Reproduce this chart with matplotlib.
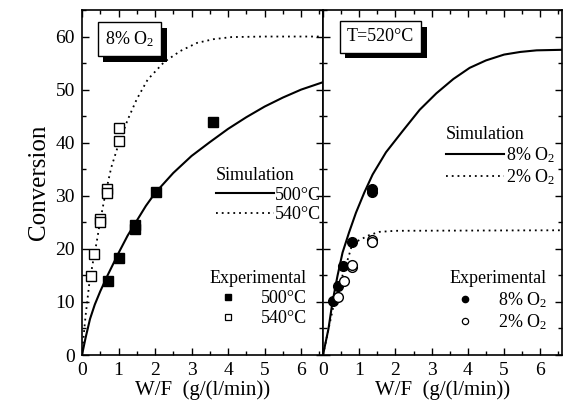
import matplotlib
matplotlib.use("Agg")
import matplotlib.pyplot as plt
from matplotlib.lines import Line2D
from matplotlib.ticker import MultipleLocator
import matplotlib.patheffects as pe

plt.rcParams['font.family'] = ['Liberation Serif', 'DejaVu Serif']
plt.rcParams['mathtext.fontset'] = 'custom'
plt.rcParams['mathtext.rm'] = 'Liberation Serif'
plt.rcParams['mathtext.it'] = 'Liberation Serif:italic'

# ---- left panel: 8% O2 ----
sim500_x = [0, 0.1, 0.22, 0.35, 0.5, 0.7, 1.0, 1.25, 1.5, 1.75, 2.0, 2.5, 3.0, 3.5, 4.0, 4.5, 5.0, 5.5, 6.0, 6.6]
sim500_y = [0, 3.3, 6.8, 9.5, 12.0, 15.0, 19.2, 22.5, 25.3, 28.1, 30.5, 34.3, 37.5, 40.1, 42.6, 44.8, 46.8, 48.5, 50.0, 51.4]
sim540_x = [0, 0.05, 0.1, 0.2, 0.3, 0.4, 0.5, 0.63, 0.8, 1.0, 1.25, 1.5, 1.8, 2.25, 2.7, 3.15, 3.6, 4.1, 5.0, 6.6]
sim540_y = [0, 4.0, 7.5, 13.5, 17.5, 21.2, 25.3, 30.0, 35.3, 39.7, 44.3, 48.2, 51.9, 55.2, 57.3, 58.8, 59.5, 59.9, 60.0, 60.0]
exp500_x = [0.72, 1.0, 1.44, 1.44, 2.02, 3.6]
exp500_y = [14.0, 18.2, 23.7, 24.5, 30.8, 43.9]
exp540_x = [0.25, 0.34, 0.5, 0.5, 0.68, 0.68, 1.02, 1.02]
exp540_y = [14.9, 19.0, 25.6, 25.0, 31.2, 30.6, 42.7, 40.3]

# ---- right panel: T=520C ----
sim8_x = [0, 0.15, 0.26, 0.4, 0.54, 0.72, 0.91, 1.14, 1.37, 1.74, 2.2, 2.67, 3.13, 3.6, 4.05, 4.5, 5.0, 5.45, 5.9, 6.6]
sim8_y = [0, 4.9, 9.9, 14.9, 19.3, 23.1, 26.8, 30.6, 34.0, 38.2, 42.2, 46.2, 49.3, 52.0, 54.1, 55.5, 56.6, 57.1, 57.4, 57.5]
sim2_x = [0, 0.15, 0.31, 0.49, 0.63, 0.74, 0.81, 1.05, 1.28, 1.56, 2.0, 6.6]
sim2_y = [0, 4.8, 9.9, 14.0, 16.8, 19.3, 21.0, 21.8, 22.6, 23.2, 23.4, 23.5]
exp8_x = [0.28, 0.42, 0.56, 0.8, 1.34, 1.34]
exp8_y = [10.2, 13.0, 16.8, 21.3, 31.2, 30.7]
exp2_x = [0.42, 0.58, 0.81, 0.81, 1.34, 1.34]
exp2_y = [11.0, 13.9, 16.5, 16.9, 21.7, 21.2]

xticks = [0, 1, 2, 3, 4, 5, 6]
yticks = [0, 10, 20, 30, 40, 50, 60]

fig = plt.figure(figsize=(5.64, 4.09), dpi=100)
ax1 = fig.add_axes([82 / 564, 1 - 355 / 409, 241 / 564, 345 / 409])
ax2 = fig.add_axes([323 / 564, 1 - 355 / 409, 239 / 564, 345 / 409])

for ax in (ax1, ax2):
    ax.set_xlim(0, 6.6)
    ax.set_ylim(0, 65)
    ax.set_xticks(xticks)
    ax.set_yticks(yticks)
    ax.xaxis.set_minor_locator(MultipleLocator(0.5))
    ax.yaxis.set_minor_locator(MultipleLocator(5))
    ax.tick_params(which='both', direction='in', top=True, right=True, width=1.0)
    ax.tick_params(which='major', length=5, labelsize=14, pad=5)
    ax.tick_params(which='minor', length=3)
    for s in ax.spines.values():
        s.set_linewidth(1.2)
    ax.set_xlabel('W/F  (g/(l/min))', fontsize=15, labelpad=1)

ax2.tick_params(labelleft=False)
ax1.set_ylabel('Conversion', fontsize=18, labelpad=4)

dot = (0, (1, 2.2))
sq = dict(marker='s', ms=7.5, ls='none', color='k')
ci = dict(marker='o', ms=7, ls='none', color='k')

ax1.plot(sim500_x, sim500_y, 'k-', lw=1.5)
ax1.plot(sim540_x, sim540_y, color='k', ls=dot, lw=1.3)
ax1.plot(exp500_x, exp500_y, mfc='k', **sq)
ax1.plot(exp540_x, exp540_y, mfc='white', mew=1.0, **sq)

ax2.plot(sim8_x, sim8_y, 'k-', lw=1.5)
ax2.plot(sim2_x, sim2_y, color='k', ls=dot, lw=1.3)
ax2.plot(exp8_x, exp8_y, mfc='k', **ci)
ax2.plot(exp2_x, exp2_y, mfc='white', mew=1.0, **ci)

leg_kw = dict(frameon=False, fontsize=13, title_fontsize=13, borderpad=0,
              borderaxespad=0, labelspacing=0.15, loc='upper left')


def add_legends(ax, labels, sim_anchor, exp_anchor, exp_marker, ms):
    sim_h = [Line2D([], [], color='k', lw=1.5),
             Line2D([], [], color='k', ls=dot, lw=1.3)]
    l1 = ax.legend(sim_h, labels, title='Simulation', handlelength=3.2,
                   handletextpad=0.1, bbox_to_anchor=sim_anchor,
                   alignment='left', **leg_kw)
    ax.add_artist(l1)
    exp_h = [Line2D([], [], marker=exp_marker, ms=ms, ls='none', color='k', mfc='k'),
             Line2D([], [], marker=exp_marker, ms=ms, ls='none', color='k', mfc='white', mew=0.9)]
    ax.legend(exp_h, labels, title='Experimental', handlelength=1.6,
              handletextpad=1.0, bbox_to_anchor=exp_anchor, alignment='right',
              **leg_kw)


add_legends(ax1, ['500°C', '540°C'], (0.555, 0.545), (0.53, 0.245), 's', 4.5)
add_legends(ax2, ['8% O$_2$', '2% O$_2$'], (0.515, 0.665), (0.53, 0.245), 'o', 4.5)

shadow = [pe.withSimplePatchShadow(offset=(4, -4), shadow_rgbFace='k', alpha=1.0)]
for ax, txt, pos in ((ax1, '8% O$_2$', (0.095, 0.915)), (ax2, 'T=520°C', (0.1, 0.922))):
    t = ax.text(pos[0], pos[1], txt, transform=ax.transAxes, fontsize=13,
                ha='left', va='center',
                bbox=dict(boxstyle='square,pad=0.4', fc='white', ec='k', lw=1.0))
    t.get_bbox_patch().set_path_effects(shadow)

fig.savefig('out.png', dpi=100)
